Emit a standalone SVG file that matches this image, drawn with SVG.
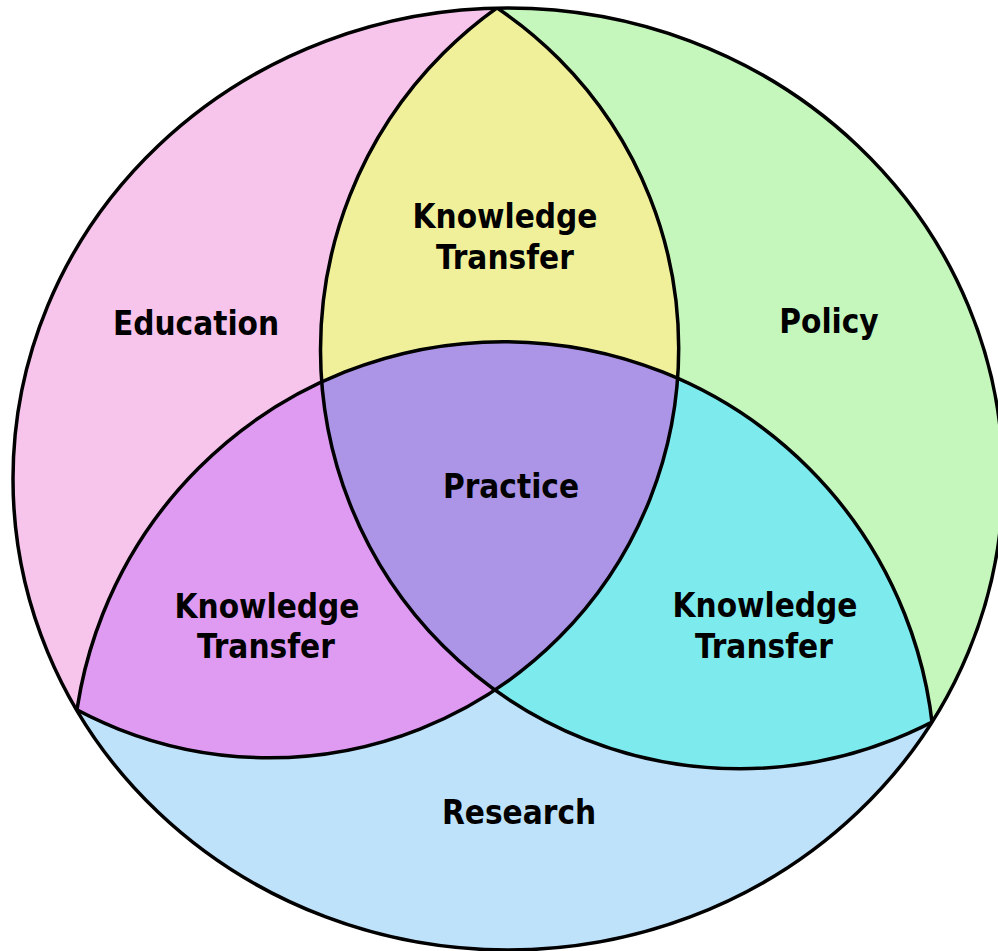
<svg xmlns="http://www.w3.org/2000/svg" width="998" height="951" viewBox="0 0 998 951">
<style>
.lbl{font-family:"DejaVu Sans Condensed","DejaVu Sans","Liberation Sans",sans-serif;font-stretch:condensed;font-weight:bold;font-size:33px;fill:#000;text-anchor:middle}
.edge{fill:none;stroke:#000;stroke-width:3.5}
</style>
<defs>
<clipPath id="clipOuter"><ellipse cx="508" cy="479" rx="495" ry="471"/></clipPath>
<clipPath id="clipE"><circle cx="269.2" cy="348.3" r="409.5"/></clipPath>
<clipPath id="clipP"><circle cx="739.6" cy="349.7" r="419.1"/></clipPath>
</defs>
<rect width="998" height="951" fill="#fff"/>
<g clip-path="url(#clipOuter)">
  <g id="education">
    <circle cx="269.2" cy="348.3" r="409.5" fill="#F7C4EC"/>
    <text class="lbl" x="196" y="335">Education</text>
  </g>
  <g id="policy">
    <circle cx="739.6" cy="349.7" r="419.1" fill="#C5F6BB"/>
    <text class="lbl" x="829" y="333">Policy</text>
  </g>
  <g id="research">
    <circle cx="503.7" cy="773" r="431.3" fill="#BEE2FA"/>
    <text class="lbl" x="519" y="824">Research</text>
  </g>
  <g id="kt-top">
    <g clip-path="url(#clipE)"><circle cx="739.6" cy="349.7" r="419.1" fill="#F0F09B"/></g>
    <text class="lbl" x="505" y="228">Knowledge</text>
    <text class="lbl" x="505" y="269">Transfer</text>
  </g>
  <g id="kt-left">
    <g clip-path="url(#clipE)"><circle cx="503.7" cy="773" r="431.3" fill="#DF9BF2"/></g>
    <text class="lbl" x="267" y="618">Knowledge</text>
    <text class="lbl" x="266" y="658">Transfer</text>
  </g>
  <g id="kt-right">
    <g clip-path="url(#clipP)"><circle cx="503.7" cy="773" r="431.3" fill="#7DEAEE"/></g>
    <text class="lbl" x="765" y="617">Knowledge</text>
    <text class="lbl" x="764" y="658">Transfer</text>
  </g>
  <g id="practice">
    <g clip-path="url(#clipE)"><g clip-path="url(#clipP)"><circle cx="503.7" cy="773" r="431.3" fill="#AC95E7"/></g></g>
    <text class="lbl" x="511" y="498">Practice</text>
  </g>
  <g id="connectors">
    <circle class="edge" cx="269.2" cy="348.3" r="409.5"/>
    <circle class="edge" cx="739.6" cy="349.7" r="419.1"/>
    <circle class="edge" cx="503.7" cy="773" r="431.3"/>
  </g>
</g>
<g id="outline">
  <ellipse class="edge" cx="508" cy="479" rx="495" ry="471"/>
</g>
</svg>
